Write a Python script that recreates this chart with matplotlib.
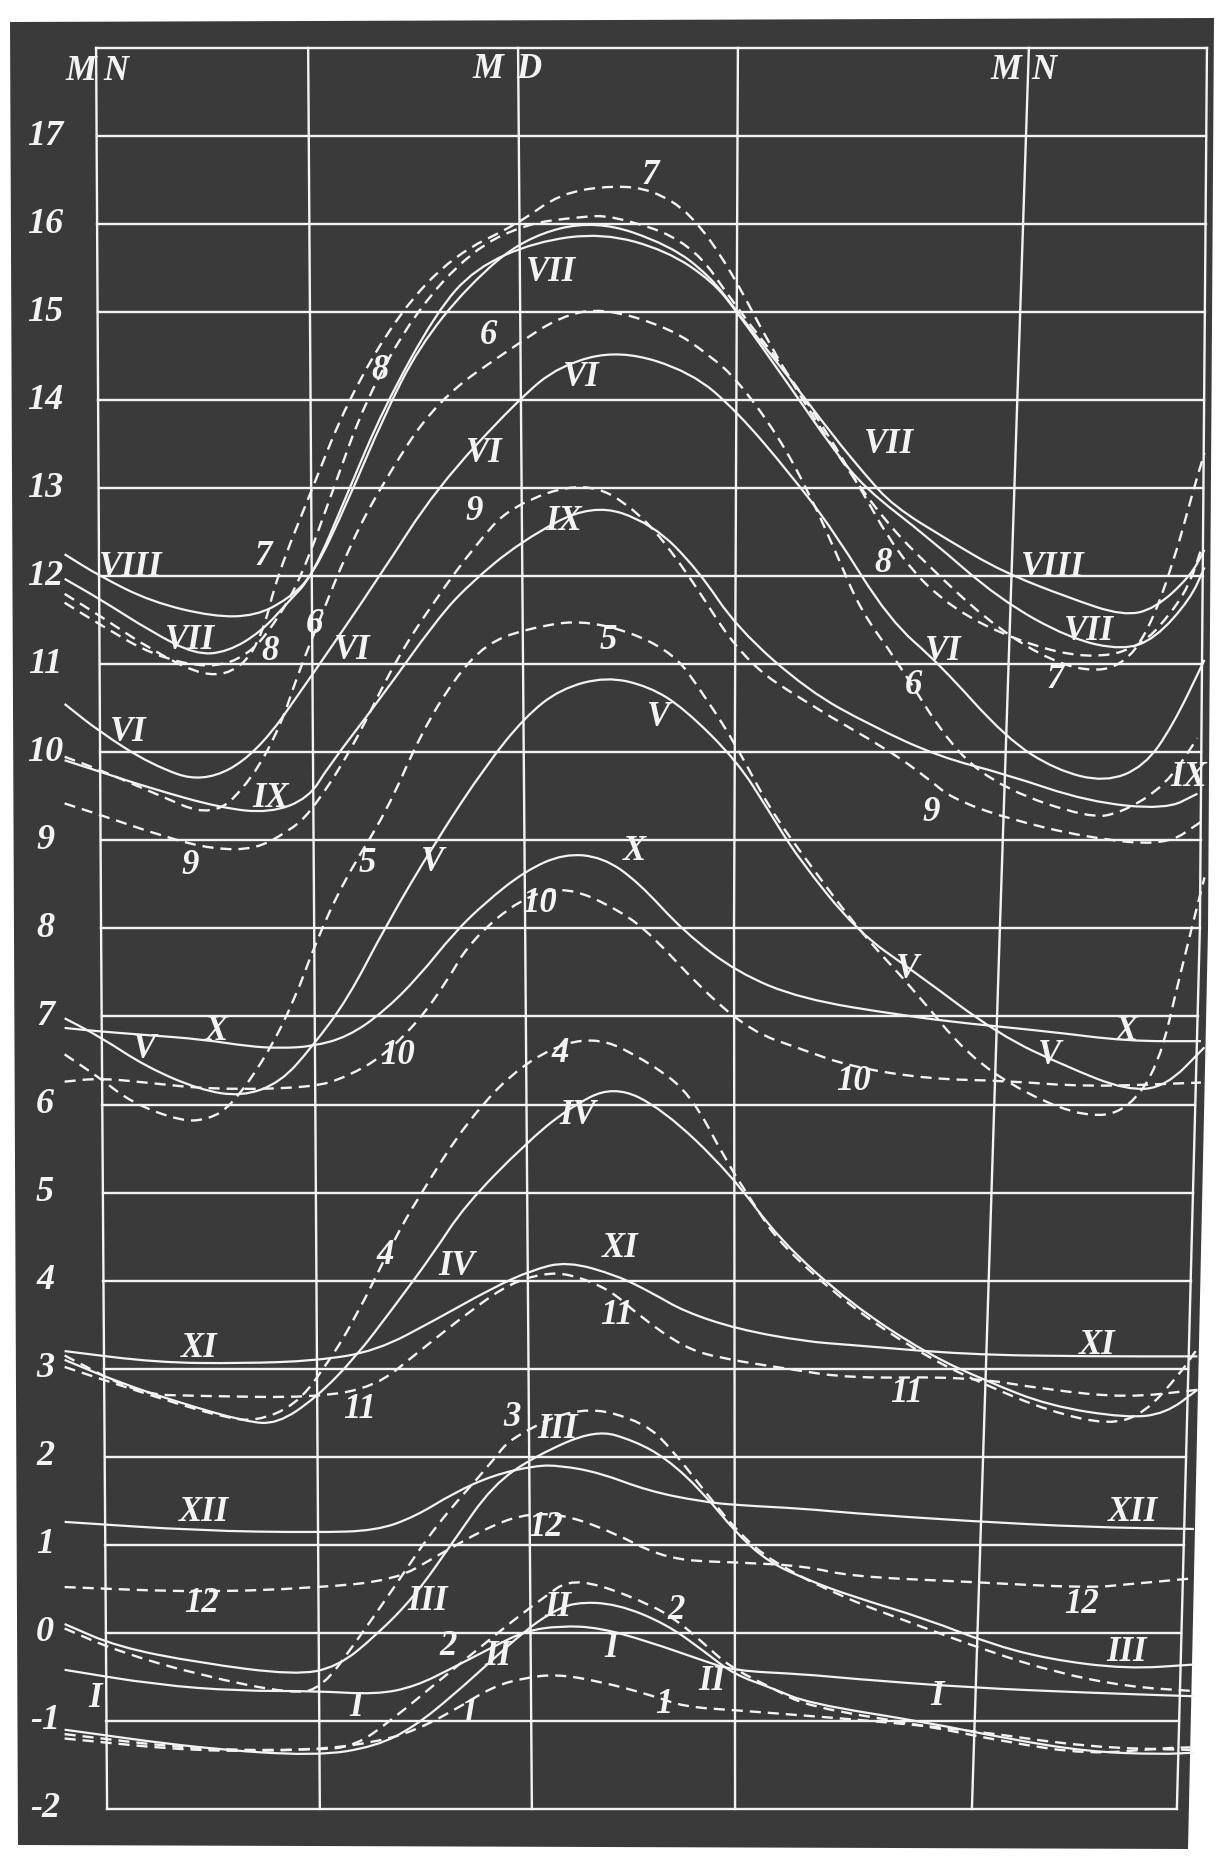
# %%
import numpy as np
import matplotlib
matplotlib.use("Agg")
import matplotlib.pyplot as plt
from matplotlib.path import Path
from matplotlib.patches import PathPatch, Polygon

plt.rcParams["font.family"] = ["Liberation Serif", "DejaVu Serif"]
plt.rcParams["lines.scale_dashes"] = False

# %% data: hour of day (0 = midnight, runs into next morning) and temperature
# solid curves, months in roman numerals
I_h = [-1.0, 1.6, 3.9, 6.1, 7.8, 8.9, 10.0, 11.1, 12.0, 13.0, 14.1, 15.5, 17.0, 17.9, 19.9, 21.2, 24.5, 27.9, 30.9]
I_t = [-0.42, -0.59, -0.66, -0.66, -0.70, -0.61, -0.39, -0.16, 0.02, 0.08, 0.06, -0.10, -0.31, -0.43, -0.47, -0.52, -0.62, -0.68, -0.72]

II_h = [-1.0, 2.8, 6.1, 7.8, 8.9, 10.0, 11.1, 12.0, 12.7, 13.4, 14.6, 16.0, 17.1, 17.9, 19.0, 20.0, 23.4, 25.6, 27.9, 30.0, 30.9]
II_t = [-1.10, -1.31, -1.40, -1.29, -1.06, -0.70, -0.30, 0.02, 0.22, 0.35, 0.33, 0.10, -0.22, -0.47, -0.63, -0.80, -1.02, -1.20, -1.35, -1.38, -1.36]

III_h = [-1.0, 0.5, 2.8, 5.5, 6.7, 7.8, 8.9, 10.0, 11.1, 12.3, 14.0, 15.1, 16.0, 17.0, 18.0, 18.9, 20.0, 21.2, 23.4, 25.1, 26.8, 29.0, 30.9]
III_t = [0.10, -0.16, -0.34, -0.48, -0.39, -0.03, 0.42, 1.05, 1.68, 2.01, 2.31, 2.18, 1.98, 1.61, 1.12, 0.80, 0.60, 0.42, 0.15, -0.12, -0.30, -0.41, -0.36]

IV_h = [-1.0, 0.5, 2.2, 4.1, 5.0, 6.1, 7.2, 8.3, 9.4, 10.3, 12.0, 13.2, 14.5, 15.9, 17.8, 19.2, 21.2, 23.4, 25.1, 26.8, 29.0, 30.1, 31.0]
IV_t = [3.10, 2.85, 2.62, 2.40, 2.37, 2.67, 3.12, 3.70, 4.30, 4.85, 5.55, 5.95, 6.22, 5.95, 5.22, 4.46, 3.74, 3.16, 2.85, 2.58, 2.44, 2.49, 2.76]

V_h = [-1.0, 0.0, 1.3, 2.8, 4.0, 5.1, 6.0, 7.0, 8.1, 9.5, 10.9, 12.0, 13.0, 14.3, 15.5, 16.5, 18.0, 18.9, 19.7, 21.4, 23.0, 25.4, 27.3, 29.0, 30.1, 31.2]
V_t = [6.98, 6.77, 6.43, 6.17, 6.09, 6.25, 6.66, 7.20, 8.05, 9.00, 9.85, 10.40, 10.72, 10.86, 10.75, 10.50, 9.90, 9.33, 8.81, 7.96, 7.51, 6.79, 6.43, 6.16, 6.20, 6.65]

VI_h = [-1.0, 0.0, 1.45, 2.9, 4.4, 6.0, 7.9, 9.5, 11.8, 13.0, 14.7, 16.7, 18.0, 19.5, 20.7, 22.3, 23.7, 25.6, 27.0, 28.4, 29.5, 30.3, 31.2]
VI_t = [10.55, 10.23, 9.86, 9.65, 9.97, 10.88, 12.0, 13.0, 14.0, 14.4, 14.57, 14.32, 13.87, 13.16, 12.53, 11.5, 11.01, 10.16, 9.80, 9.66, 9.84, 10.30, 11.05]

VII_h = [-1.0, 0.0, 1.45, 2.7, 3.6, 4.55, 5.3, 6.0, 7.0, 8.0, 9.5, 10.6, 12.3, 14.2, 16.0, 17.3, 18.0, 19.5, 20.7, 21.6, 23.4, 25.4, 27.4, 28.9, 29.8, 30.8, 31.2]
VII_t = [11.97, 11.74, 11.37, 11.11, 11.14, 11.37, 11.70, 12.0, 12.95, 13.9, 15.0, 15.5, 15.8, 15.9, 15.7, 15.35, 15.0, 14.15, 13.45, 13.0, 12.44, 11.74, 11.29, 11.16, 11.29, 11.74, 12.1]

VIII_h = [-1.0, 0.0, 1.45, 3.2, 4.4, 5.3, 6.0, 7.0, 8.0, 9.0, 10.4, 12.0, 14.0, 16.1, 17.25, 18.0, 19.5, 20.7, 21.6, 22.4, 24.0, 25.5, 27.4, 28.9, 29.8, 30.8, 31.2]
VIII_t = [12.25, 12.0, 11.71, 11.54, 11.55, 11.74, 12.0, 12.85, 13.8, 14.6, 15.3, 15.85, 16.05, 15.76, 15.4, 15.0, 14.24, 13.6, 13.16, 12.8, 12.4, 12.05, 11.75, 11.55, 11.63, 12.0, 12.3]

IX_h = [-1.0, 0.0, 1.45, 3.4, 4.8, 5.9, 6.45, 7.9, 9.5, 10.4, 11.9, 13.9, 15.6, 16.9, 18.0, 20.0, 21.8, 23.7, 25.6, 27.9, 30.1, 31.0]
IX_t = [9.91, 9.78, 9.59, 9.37, 9.31, 9.48, 9.84, 10.6, 11.5, 11.9, 12.4, 12.83, 12.6, 12.07, 11.41, 10.7, 10.3, 9.95, 9.75, 9.44, 9.35, 9.53]

X_h = [-1.0, 0.0, 1.3, 2.9, 4.2, 5.1, 6.0, 7.0, 8.0, 9.0, 10.0, 10.9, 12.0, 13.1, 14.2, 15.2, 16.5, 18.0, 19.8, 22.7, 24.5, 26.8, 29.0, 31.1]
X_t = [6.87, 6.83, 6.79, 6.74, 6.66, 6.64, 6.66, 6.77, 7.05, 7.45, 7.95, 8.30, 8.65, 8.85, 8.81, 8.53, 7.96, 7.50, 7.20, 7.01, 6.92, 6.83, 6.72, 6.72]

XI_h = [-1.0, 1.6, 4.0, 6.1, 7.8, 9.5, 11.1, 12.2, 13.2, 14.6, 15.6, 16.5, 18.0, 19.9, 21.2, 24.5, 27.9, 31.0]
XI_t = [3.20, 3.07, 3.06, 3.09, 3.20, 3.56, 3.92, 4.12, 4.22, 4.06, 3.86, 3.65, 3.45, 3.31, 3.27, 3.16, 3.14, 3.14]

XII_h = [-1.0, 2.8, 6.1, 7.8, 8.9, 10.0, 11.1, 12.3, 13.0, 14.1, 15.5, 17.0, 18.0, 19.9, 21.2, 24.5, 27.9, 30.9]
XII_t = [1.26, 1.16, 1.14, 1.16, 1.32, 1.59, 1.79, 1.90, 1.90, 1.82, 1.61, 1.49, 1.45, 1.41, 1.36, 1.27, 1.20, 1.18]

# dashed curves, months in arabic numbers
d1_h = [-1.0, 2.8, 6.1, 7.8, 8.9, 10.0, 11.1, 12.0, 12.9, 14.1, 15.6, 16.5, 18.0, 19.9, 21.2, 24.5, 27.9, 30.85]
d1_t = [-1.20, -1.35, -1.33, -1.24, -1.11, -0.88, -0.61, -0.51, -0.47, -0.55, -0.71, -0.84, -0.88, -0.94, -0.98, -1.10, -1.30, -1.33]

d2_h = [-1.0, 2.8, 6.1, 7.2, 8.3, 9.5, 10.6, 11.7, 12.6, 13.2, 14.1, 15.6, 16.3, 17.0, 17.8, 19.0, 20.0, 23.4, 25.6, 27.9, 30.0, 30.85]
d2_t = [-1.15, -1.33, -1.33, -1.29, -0.97, -0.57, -0.21, 0.15, 0.42, 0.59, 0.55, 0.31, 0.14, -0.10, -0.39, -0.63, -0.84, -1.06, -1.24, -1.38, -1.31, -1.30]

d3_h = [-1.0, 0.5, 2.8, 5.5, 6.3, 7.2, 8.3, 9.5, 11.1, 11.6, 13.6, 15.4, 16.2, 17.0, 18.0, 19.0, 21.0, 23.0, 25.1, 27.0, 29.0, 30.85]
d3_t = [0.05, -0.21, -0.48, -0.70, -0.61, -0.12, 0.51, 1.23, 1.95, 2.22, 2.59, 2.39, 2.06, 1.65, 1.15, 0.80, 0.40, 0.10, -0.21, -0.45, -0.61, -0.66]

d4_h = [-1.0, 0.5, 2.2, 3.5, 4.4, 5.5, 6.3, 7.2, 8.3, 9.0, 10.4, 12.0, 13.9, 15.6, 16.7, 17.7, 18.5, 19.2, 21.2, 23.4, 25.1, 26.8, 28.5, 29.5, 30.5, 30.95]
d4_t = [3.02, 2.82, 2.60, 2.45, 2.40, 2.58, 2.98, 3.56, 4.46, 4.95, 5.83, 6.50, 6.81, 6.46, 6.11, 5.35, 4.85, 4.42, 3.70, 3.12, 2.80, 2.52, 2.36, 2.49, 2.94, 3.20]

d5_h = [-1.0, 0.0, 0.9, 2.3, 3.05, 3.7, 4.7, 5.5, 6.1, 6.9, 8.1, 9.05, 10.0, 10.9, 12.0, 13.8, 16.1, 17.1, 18.0, 18.9, 20.0, 21.5, 23.0, 24.5, 26.2, 27.9, 29.0, 29.9, 30.5, 31.2]
d5_t = [6.57, 6.30, 6.02, 5.81, 5.83, 5.98, 6.55, 7.19, 7.85, 8.55, 9.33, 10.2, 10.83, 11.23, 11.4, 11.52, 11.19, 10.63, 10.06, 9.37, 8.75, 7.95, 7.30, 6.56, 6.11, 5.85, 5.93, 6.43, 7.46, 8.58]

d6_h = [-1.0, 0.0, 1.45, 3.2, 4.3, 5.1, 5.6, 6.2, 7.0, 7.9, 9.5, 11.8, 13.0, 14.2, 16.1, 17.25, 18.0, 19.15, 20.05, 20.8, 21.5, 22.5, 24.1, 25.6, 27.9, 28.8, 30.1, 31.0]
d6_t = [9.95, 9.80, 9.55, 9.25, 9.70, 10.30, 10.90, 11.50, 12.30, 13.0, 14.0, 14.64, 14.95, 15.05, 14.82, 14.50, 14.23, 13.60, 12.93, 12.26, 11.60, 11.05, 10.02, 9.57, 9.26, 9.30, 9.62, 10.16]

d7_h = [-1.0, 0.0, 1.5, 3.0, 4.0, 4.6, 5.0, 6.0, 7.0, 8.46, 10.0, 11.8, 13.0, 14.5, 15.6, 16.7, 17.8, 18.9, 20.05, 21.2, 22.3, 23.4, 25.0, 26.55, 27.9, 28.9, 29.6, 30.3, 30.9, 31.2]
d7_t = [11.80, 11.55, 11.15, 10.85, 10.95, 11.35, 12.0, 13.0, 14.0, 15.0, 15.65, 16.0, 16.35, 16.44, 16.39, 16.12, 15.49, 14.64, 13.87, 13.16, 12.57, 12.12, 11.52, 11.10, 10.91, 10.99, 11.37, 12.12, 13.0, 13.4]

d8_h = [-1.0, 0.0, 1.5, 3.1, 4.2, 5.0, 5.7, 6.6, 7.5, 8.9, 10.5, 12.0, 13.5, 14.5, 16.7, 18.0, 19.5, 21.2, 22.6, 24.05, 26.0, 27.9, 29.35, 30.3, 30.8, 31.1]
d8_t = [11.70, 11.45, 11.10, 10.95, 11.10, 11.50, 12.0, 13.0, 14.0, 15.0, 15.7, 16.0, 16.08, 16.10, 15.80, 15.04, 14.28, 13.20, 12.20, 11.63, 11.25, 11.06, 11.18, 11.60, 11.93, 12.3]

d9_h = [-1.0, 0.0, 1.9, 3.2, 4.4, 5.3, 5.9, 7.1, 8.35, 9.5, 10.6, 11.6, 13.7, 15.2, 16.5, 18.15, 20.0, 22.3, 23.4, 24.05, 25.6, 27.9, 30.1, 31.1]
d9_t = [9.42, 9.29, 9.03, 8.90, 8.90, 9.10, 9.29, 10.02, 11.05, 11.75, 12.35, 12.80, 13.09, 12.75, 12.10, 11.05, 10.55, 10.02, 9.70, 9.48, 9.25, 9.03, 8.94, 9.21]

d10_h = [-1.0, 0.0, 1.3, 3.2, 6.0, 7.0, 8.0, 9.0, 9.8, 10.45, 11.9, 13.2, 14.7, 15.6, 17.0, 18.4, 19.8, 21.2, 23.4, 25.6, 27.9, 31.1]
d10_t = [6.26, 6.30, 6.25, 6.17, 6.19, 6.32, 6.55, 6.95, 7.40, 7.85, 8.35, 8.48, 8.20, 7.92, 7.31, 6.83, 6.63, 6.43, 6.29, 6.27, 6.20, 6.25]

d11_h = [-1.0, 1.1, 2.8, 6.1, 7.8, 8.9, 10.6, 11.6, 12.5, 13.25, 14.4, 15.2, 16.5, 17.5, 19.4, 21.2, 24.5, 26.8, 29.0, 31.0]
d11_t = [3.15, 2.71, 2.69, 2.67, 2.80, 3.16, 3.70, 3.97, 4.08, 4.08, 3.90, 3.61, 3.24, 3.12, 3.00, 2.89, 2.91, 2.76, 2.67, 2.76]

d12_h = [-1.0, 2.8, 6.1, 8.35, 9.5, 11.1, 12.15, 13.25, 14.6, 15.56, 16.5, 18.0, 19.9, 21.2, 24.5, 27.9, 29.0, 30.9]
d12_t = [0.52, 0.46, 0.51, 0.60, 0.87, 1.23, 1.36, 1.33, 1.12, 0.92, 0.82, 0.80, 0.76, 0.64, 0.58, 0.51, 0.55, 0.62]

solid = [(I_h, I_t), (II_h, II_t), (III_h, III_t), (IV_h, IV_t), (V_h, V_t), (VI_h, VI_t),
         (VII_h, VII_t), (VIII_h, VIII_t), (IX_h, IX_t), (X_h, X_t), (XI_h, XI_t), (XII_h, XII_t)]
dashed = [(d1_h, d1_t), (d2_h, d2_t), (d3_h, d3_t), (d4_h, d4_t), (d5_h, d5_t), (d6_h, d6_t),
          (d7_h, d7_t), (d8_h, d8_t), (d9_h, d9_t), (d10_h, d10_t), (d11_h, d11_t), (d12_h, d12_t)]

y_ticks = list(range(-2, 18))

# curve labels written on the plate (text, hour, temperature)
roman_labels = [
    ("VII", 12.75, 15.45), ("VI", 13.6, 14.26), ("VI", 10.85, 13.39), ("IX", 13.1, 12.62),
    ("VIII", 0.86, 12.1), ("VII", 2.53, 11.27), ("VI", 7.12, 11.16), ("VI", 0.79, 10.23),
    ("IX", 4.81, 9.48), ("V", 15.77, 10.4), ("V", 9.4, 8.75), ("X", 15.1, 8.87),
    ("X", 3.3, 6.83), ("V", 1.26, 6.62), ("IV", 13.5, 5.88), ("IV", 10.07, 4.16),
    ("XI", 14.7, 4.36), ("XI", 2.8, 3.23), ("XII", 2.94, 1.37), ("III", 12.92, 2.31),
    ("III", 9.24, 0.36), ("II", 12.92, 0.29), ("II", 11.25, -0.27), ("I", 14.43, -0.18),
    ("II", 17.28, -0.55), ("I", -0.14, -0.74), ("I", 7.23, -0.85), ("I", 23.64, -0.72),
    ("VII", 22.3, 13.5), ("VIII", 26.92, 12.1), ("VII", 27.93, 11.37), ("VI", 23.81, 11.14),
    ("IX", 30.75, 9.72), ("V", 22.8, 7.53), ("X", 29.0, 6.83), ("V", 26.82, 6.56),
    ("XI", 28.16, 3.26), ("XII", 29.17, 1.37), ("III", 29.0, -0.22),
]
arabic_labels = [
    ("7", 15.53, 16.55), ("8", 7.9, 14.34), ("6", 10.98, 14.73), ("9", 10.58, 12.73),
    ("7", 4.61, 12.22), ("8", 4.81, 11.14), ("6", 6.05, 11.45), ("9", 2.54, 8.71),
    ("5", 14.36, 11.27), ("5", 7.56, 8.74), ("10", 12.42, 8.28), ("10", 8.4, 6.56),
    ("4", 12.99, 6.58), ("4", 8.06, 4.29), ("11", 14.6, 3.6), ("11", 7.33, 2.54),
    ("11", 22.8, 2.72), ("3", 11.65, 2.45), ("12", 12.6, 1.2), ("12", 2.87, 0.33),
    ("12", 27.73, 0.32), ("2", 16.27, 0.25), ("2", 9.84, -0.15), ("1", 15.93, -0.81),
    ("1", 10.41, -0.92), ("8", 22.13, 12.15), ("6", 22.97, 10.76), ("7", 26.99, 10.83),
    ("9", 23.47, 9.32), ("10", 21.3, 6.26),
]

# %% plate geometry (pixels of the scan -> hours / degrees)
W, H = 1224, 1860
PX_PER_H = 35.4
X0 = 100
PX_PER_DEG = 88.05
Y17 = 136

# vertical rules are a bit skewed on the plate: hour at bottom (-2), middle (8), top (18)
rule_v = [-2, 8, 18]
vrules = [
    [0.20, 0.03, -0.11],    # left frame / midnight
    [6.21, 6.05, 5.88],
    [12.20, 12.01, 11.81],  # noon
    [17.94, 17.91, 18.02],
    [24.63, 25.42, 26.24],  # midnight
    [30.42, 31.07, 31.27],  # right frame
]

BG = "#3a3a3a"
INK = "#f3f3f3"


def smooth_path(h, t):
    pts = np.column_stack([h, t])
    verts = [pts[0], (pts[0] + pts[1]) / 2]
    codes = [Path.MOVETO, Path.LINETO]
    for i in range(1, len(pts) - 1):
        verts += [pts[i], (pts[i] + pts[i + 1]) / 2]
        codes += [Path.CURVE3, Path.CURVE3]
    verts.append(pts[-1])
    codes.append(Path.LINETO)
    return Path(verts, codes)


fig = plt.figure(figsize=(W / 100, H / 100), dpi=100, facecolor="white")
ax = fig.add_axes([0, 0, 1, 1])
ax.set_xlim(-X0 / PX_PER_H, (W - X0) / PX_PER_H)
ax.set_ylim(17 - (H - Y17) / PX_PER_DEG, 17 + Y17 / PX_PER_DEG)
ax.axis("off")

# dark plate
plate = [(10, 22), (1214, 18), (1208, 930), (1188, 1849), (18, 1845)]
ax.add_patch(Polygon([(x / W, 1 - y / H) for x, y in plate], closed=True,
                     transform=fig.transFigure, fc=BG, ec="none", zorder=0))

# grid
for hs in vrules:
    ax.plot(hs, rule_v, color=INK, lw=1.7, zorder=1)
left = vrules[0]
right = vrules[-1]
for v in range(-2, 19):
    hl = np.interp(v, rule_v, left)
    hr = np.interp(v, rule_v, right)
    ax.plot([hl, hr], [v, v], color=INK, lw=1.7, zorder=1)

# curves
for h, t in solid:
    ax.add_patch(PathPatch(smooth_path(h, t), fill=False, ec=INK, lw=1.6, zorder=2))
for h, t in dashed:
    ax.add_patch(PathPatch(smooth_path(h, t), fill=False, ec=INK, lw=1.7,
                           ls=(0, (8, 5)), zorder=2))

# labels
for v in y_ticks:
    ax.text(-1.55, v, str(v), ha="center", va="center", color=INK, fontsize=26,
            style="italic", weight="bold")

for txt, h, v in [("M", -0.55, 17.73), ("N", 0.45, 17.73),
                  ("M", 10.95, 17.75), ("D", 12.1, 17.75),
                  ("M", 25.6, 17.74), ("N", 26.65, 17.74)]:
    ax.text(h, v, txt, ha="center", va="center", color=INK, fontsize=25,
            style="italic", weight="bold")

for txt, h, v in roman_labels:
    ax.text(h, v, txt, ha="center", va="center", color=INK, fontsize=25,
            style="italic", weight="bold", zorder=3)
for txt, h, v in arabic_labels:
    ax.text(h, v, txt, ha="center", va="center", color=INK, fontsize=25,
            style="italic", weight="bold", zorder=3)

fig.savefig("out.png", dpi=100, facecolor="white")
